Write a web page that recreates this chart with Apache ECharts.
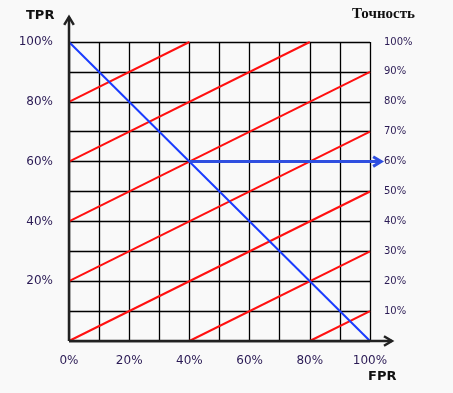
<!DOCTYPE html>
<html><head><meta charset="utf-8">
<script src="https://cdn.jsdelivr.net/npm/echarts@6/dist/echarts.min.js"></script>
<style>html,body{margin:0;padding:0;background:#f9f9f9}#c{width:453px;height:393px}</style>
</head><body><div id="c"></div>
<script>
// Data (percent)
const xTickLabels = [0, 20, 40, 60, 80, 100];
const leftTickLabels = [20, 40, 60, 80, 100];
const rightTickLabels = [10, 20, 30, 40, 50, 60, 70, 80, 90, 100];
// Red iso-accuracy lines: [x1, y1, x2, y2]
const redLines = [
  [0, 80, 40, 100],
  [0, 60, 80, 100],
  [0, 40, 100, 90],
  [0, 20, 100, 70],
  [0, 0, 100, 50],
  [40, 0, 100, 30],
  [80, 0, 100, 10]
];
const blueDiagonal = [[0, 100], [100, 0]];
const blueArrow = [[40, 60], [103.7, 60]];
const yAxisArrow = [[0, 0], [0, 108.4]];
const xAxisArrow = [[0, 0], [107.3, 0]];

const labelColor = '#2b1b55';

const series = [];
redLines.forEach(l => series.push({
  type: 'line', silent: true, symbol: 'none', z: 3,
  lineStyle: {color: '#ff1010', width: 2},
  data: [[l[0], l[1]], [l[2], l[3]]]
}));
series.push({
  type: 'line', silent: true, symbol: 'none', z: 4,
  lineStyle: {color: '#1a3cff', width: 2},
  data: blueDiagonal
});

const texts = [
  {type: 'text', id: 't1', left: 26, top: 9, style: {text: 'TPR', font: 'bold 13px "DejaVu Sans"', fill: '#111'}},
  {type: 'text', id: 't2', left: 352, top: 7, style: {text: 'Точность', font: 'bold 15px "Liberation Serif"', fill: '#111'}},
  {type: 'text', id: 't3', left: 368, top: 370, style: {text: 'FPR', font: 'bold 13px "DejaVu Sans"', fill: '#111'}}
];

const chart = echarts.init(document.getElementById('c'));
chart.setOption({
  backgroundColor: '#f9f9f9',
  animation: false,
  grid: {left: 69, right: 83, top: 42, bottom: 52},
  xAxis: {
    type: 'value', min: 0, max: 100, interval: 10,
    axisLine: {show: false}, axisTick: {show: false},
    splitLine: {lineStyle: {color: '#000', width: 1.3}},
    axisLabel: {
      margin: 14, color: labelColor, fontFamily: 'DejaVu Sans', fontSize: 12,
      formatter: v => xTickLabels.includes(v) ? v + '%' : ''
    }
  },
  yAxis: [{
    type: 'value', min: 0, max: 100, interval: 10,
    axisLine: {show: false}, axisTick: {show: false},
    splitLine: {lineStyle: {color: '#000', width: 1.3}},
    axisLabel: {
      margin: 16, color: labelColor, fontFamily: 'DejaVu Sans', fontSize: 12,
      formatter: v => leftTickLabels.includes(v) ? v + '%' : ''
    }
  }, {
    type: 'value', min: 0, max: 100, interval: 10, position: 'right',
    axisLine: {show: false}, axisTick: {show: false}, splitLine: {show: false},
    axisLabel: {
      margin: 14, color: labelColor, fontFamily: 'DejaVu Sans', fontSize: 10,
      formatter: v => rightTickLabels.includes(v) ? v + '%' : ''
    }
  }],
  graphic: texts,
  series: series
});

// Arrows drawn through the chart's own scales
function arrowGraphics(id, pts, color, width, head) {
  const a = chart.convertToPixel({gridIndex: 0}, pts[0]);
  const b = chart.convertToPixel({gridIndex: 0}, pts[1]);
  const dx = b[0] - a[0], dy = b[1] - a[1];
  const len = Math.hypot(dx, dy);
  const ux = dx / len, uy = dy / len;
  const px = -uy, py = ux;
  const h = head;
  return [
    {type: 'polyline', id: id + 'l', z: 10, shape: {points: [a, b]},
     style: {stroke: color, lineWidth: width, fill: null}},
    {type: 'polyline', id: id + 'h', z: 10, shape: {points: [
      [b[0] - ux * h + px * h * 0.6, b[1] - uy * h + py * h * 0.6],
      [b[0], b[1]],
      [b[0] - ux * h - px * h * 0.6, b[1] - uy * h - py * h * 0.6]
    ]}, style: {stroke: color, lineWidth: width, fill: null}}
  ];
}
chart.setOption({
  graphic: texts.concat(
    arrowGraphics('ya', yAxisArrow, '#222', 2.5, 8),
    arrowGraphics('xa', xAxisArrow, '#222', 2.5, 8),
    arrowGraphics('ba', blueArrow, '#2f4fe0', 3, 8)
  )
});
</script></body></html>
